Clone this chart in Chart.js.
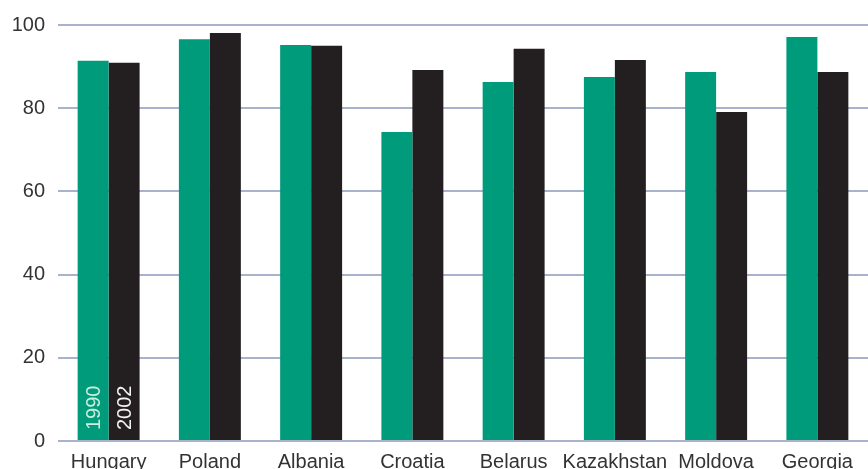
<!DOCTYPE html>
<html>
<head>
<meta charset="utf-8">
<script src="https://cdn.jsdelivr.net/npm/chart.js@4/dist/chart.umd.min.js"></script>
<style>
html,body{margin:0;padding:0;background:#fff;}
#wrap{width:868px;height:469px;position:relative;}
</style>
</head>
<body>
<div id="wrap"><canvas id="c" width="868" height="469"></canvas></div>
<script>
const categories = ["Hungary","Poland","Albania","Croatia","Belarus","Kazakhstan","Moldova","Georgia"];
const seriesNames = ["1990","2002"];
const values1990 = [91.4, 96.6, 95.2, 74.3, 86.3, 87.5, 88.7, 97.1];
const values2002 = [90.9, 98.1, 95.0, 89.2, 94.3, 91.6, 79.1, 88.7];
const yTicks = [0, 20, 40, 60, 80, 100];

const GREEN = '#009B7A';
const BLACK = '#231F20';
const FONT = '"Liberation Sans", Arial, sans-serif';

const seriesLabelPlugin = {
  id: 'seriesLabels',
  afterDatasetsDraw(chart) {
    const ctx = chart.ctx;
    const colors = ['#C9EEDF', '#F2F2F2'];
    chart.data.datasets.forEach((ds, di) => {
      const meta = chart.getDatasetMeta(di);
      const bar = meta.data[0];
      if (!bar) return;
      ctx.save();
      ctx.translate(bar.x, bar.base - 10);
      ctx.rotate(-Math.PI / 2);
      ctx.font = '20px ' + FONT;
      ctx.fillStyle = colors[di];
      ctx.textAlign = 'left';
      ctx.textBaseline = 'middle';
      ctx.fillText(seriesNames[di], 0, 1);
      ctx.restore();
    });
  }
};

new Chart(document.getElementById('c'), {
  type: 'bar',
  data: {
    labels: categories,
    datasets: [
      { label: seriesNames[0], data: values1990, backgroundColor: GREEN, borderWidth: 0 },
      { label: seriesNames[1], data: values2002, backgroundColor: BLACK, borderWidth: 0 }
    ]
  },
  options: {
    responsive: false,
    animation: false,
    devicePixelRatio: 1,
    layout: { padding: { top: 25, left: 0, right: 0, bottom: 0 } },
    datasets: { bar: { barPercentage: 1.0, categoryPercentage: 0.612 } },
    plugins: { legend: { display: false }, tooltip: { enabled: false } },
    scales: {
      x: {
        grid: { display: false, drawTicks: false },
        border: { display: false },
        ticks: { color: '#333333', font: { family: FONT, size: 20 }, padding: 9, maxRotation: 0, autoSkip: false },
        afterFit(scale) { scale.height = 28; }
      },
      y: {
        min: 0, max: 100,
        afterBuildTicks(scale) { scale.ticks = yTicks.map(v => ({ value: v })); },
        grid: { color: '#A8B3CB', lineWidth: 2, drawTicks: false },
        border: { display: false },
        ticks: { color: '#333333', font: { family: FONT, size: 20 }, padding: 13 },
        afterFit(scale) { scale.width = 58; }
      }
    }
  },
  plugins: [seriesLabelPlugin]
});
</script>
</body>
</html>
